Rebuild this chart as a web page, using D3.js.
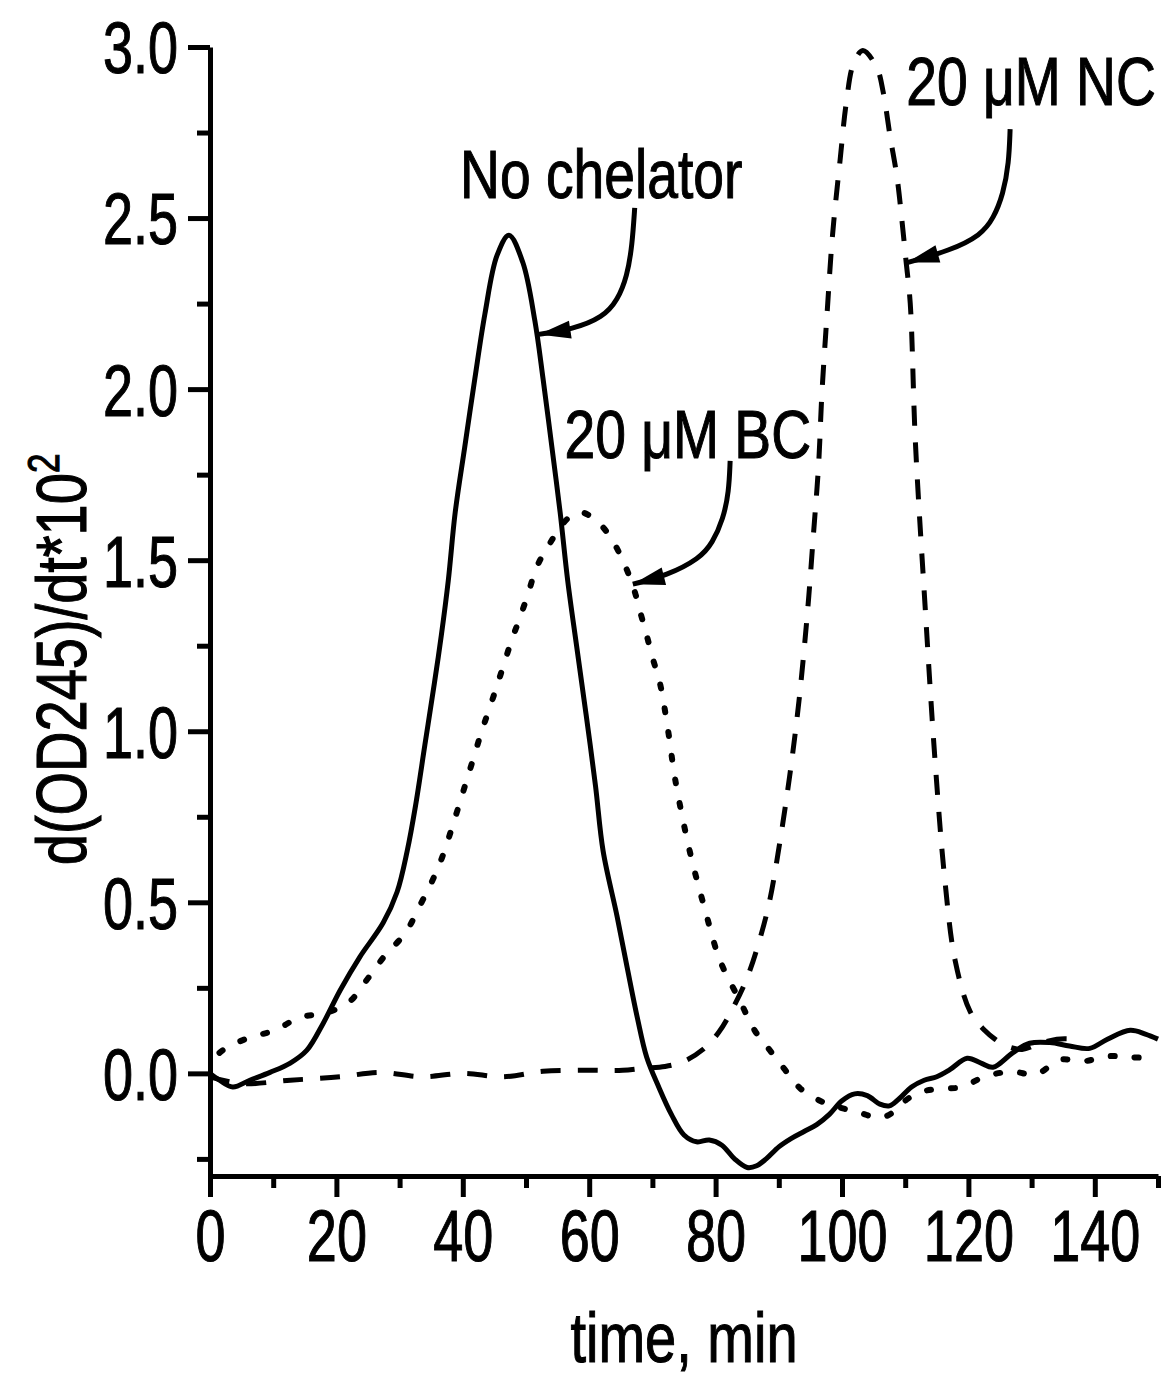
<!DOCTYPE html>
<html>
<head>
<meta charset="utf-8">
<script src="https://cdn.jsdelivr.net/npm/d3@7"></script>
<style>
  html, body { margin: 0; padding: 0; background: #fff; }
  text { font-family: "Liberation Sans", Arial, sans-serif; fill: #000; stroke: #000; stroke-width: 1.1px; }
</style>
</head>
<body>
<div id="chart"></div>
<script>
// series: [time (min), d(OD245)/dt*10^2]
const noChelator = [
  [0, 0.0], [1.5, -0.02], [3.6, -0.04], [6.3, -0.02], [9.5, 0.003], [12.7, 0.03], [15.3, 0.067],
  [17.9, 0.146], [20.6, 0.243], [23.7, 0.34], [27.4, 0.44], [29.6, 0.53], [31.2, 0.65], [32.5, 0.78],
  [34, 0.96], [35.5, 1.14], [36.6, 1.28], [37.7, 1.44], [38.8, 1.64], [40.3, 1.83], [41.9, 2.03],
  [43.5, 2.22], [45.4, 2.39], [47.3, 2.45], [49.5, 2.37], [51.4, 2.2], [52.7, 2.03], [54.1, 1.83],
  [55.4, 1.64], [56.6, 1.44], [58, 1.25], [59.5, 1.05], [61, 0.84], [62.2, 0.65], [64.4, 0.46],
  [66, 0.31], [67.6, 0.164], [69.1, 0.047], [71, -0.04], [73, -0.12], [75, -0.18], [77, -0.2],
  [79, -0.195], [81, -0.21], [83, -0.25], [85, -0.275], [86.5, -0.27], [88, -0.25], [90, -0.215],
  [92, -0.19], [94, -0.17], [96, -0.15], [98, -0.12], [100, -0.08], [102, -0.06], [104, -0.065],
  [106, -0.09], [107.5, -0.095], [109, -0.075], [111, -0.04], [113, -0.02], [115, -0.01], [117, 0.01],
  [119.8, 0.044], [122, 0.03], [123.9, 0.018], [127, 0.06], [129.7, 0.088], [132.9, 0.09], [136, 0.08],
  [139.2, 0.073], [142, 0.1], [145.6, 0.126], [148, 0.115], [150, 0.1]
]

const bc20 = [
  [1.5, 0.06], [2.7, 0.076], [6.3, 0.105], [10.3, 0.126], [14.2, 0.164], [17.9, 0.175], [21.8, 0.205],
  [25, 0.278], [27.7, 0.345], [30.9, 0.41], [33.2, 0.49], [35.1, 0.56], [36.7, 0.63], [39, 0.76],
  [41, 0.88], [43, 1.0], [45, 1.11], [46.4, 1.19], [47.8, 1.27], [49, 1.33], [50.3, 1.4], [51.7, 1.48],
  [53.8, 1.55], [56.5, 1.62], [58.5, 1.64], [60.1, 1.63], [62, 1.6], [63.6, 1.56], [65.3, 1.5],
  [67, 1.42], [68.2, 1.34], [69.1, 1.28], [70.1, 1.21], [71.2, 1.14], [72.5, 1.0], [73.6, 0.86],
  [75.9, 0.65], [78.3, 0.48], [80.7, 0.33], [83.9, 0.21], [86.2, 0.125], [88.6, 0.067], [91, 0.01],
  [93.4, -0.044], [96.5, -0.08], [99.7, -0.1], [102.8, -0.115], [106, -0.13], [108.4, -0.11],
  [110, -0.08], [112.3, -0.055], [115.5, -0.045], [119, -0.04], [122.5, -0.01], [126.9, 0.005],
  [130.7, -0.003], [134.5, 0.04], [138.1, 0.035], [142.1, 0.05], [145.9, 0.047], [149.5, 0.044]
]

const nc20 = [
  [0, -0.01], [5, -0.03], [12.7, -0.02], [20.6, -0.01], [26.9, 0.003], [33.5, -0.01], [40, 0.0],
  [46.4, -0.01], [52.7, 0.006], [59.6, 0.009], [65.3, 0.009], [68.5, 0.015], [72, 0.02], [75, 0.035],
  [78, 0.07], [80.5, 0.12], [83, 0.2], [85, 0.28], [86.8, 0.38], [88.5, 0.5], [90.2, 0.68], [91.8, 0.88],
  [93.2, 1.09], [94.5, 1.34], [95.5, 1.58], [96.3, 1.78], [96.8, 1.98], [97.6, 2.21], [98.5, 2.45],
  [99.7, 2.67], [100.7, 2.84], [101.8, 2.95], [103.3, 2.99], [105.5, 2.94], [106.5, 2.87],
  [107.6, 2.74], [108.7, 2.62], [109.5, 2.49], [110.1, 2.38], [110.8, 2.25], [111.6, 1.85],
  [113.1, 1.38], [114.7, 0.92], [116.3, 0.56], [117.9, 0.33], [120.3, 0.18], [122.6, 0.125],
  [124.2, 0.1], [126, 0.08], [128.5, 0.07], [131, 0.085], [134, 0.1], [137, 0.1]
]

const xMajorTicks = [0, 20, 40, 60, 80, 100, 120, 140]
const xMinorTicks = [10, 30, 50, 70, 90, 110, 130, 150]
const yMajorTicks = [0.0, 0.5, 1.0, 1.5, 2.0, 2.5, 3.0]
const yMinorTicks = [-0.25, 0.25, 0.75, 1.25, 1.75, 2.25, 2.75]

// annotations: label text, label anchor (data units), arrow path (data units, ends at the tip)
const labels = [
  { text: 'No chelator', at: [61.9, 2.56], arrow: [[67.2, 2.53], [66.8, 2.42], [66, 2.33], [64.5, 2.26], [62.2, 2.21], [57.4, 2.175], [52.0, 2.16]] },
  { text: '20 \u03bcM BC', at: [75.6, 1.80], arrow: [[82.3, 1.79], [82.1, 1.70], [81.2, 1.62], [79.5, 1.55], [77.5, 1.505], [72.3, 1.455], [66.9, 1.43]] },
  { text: '20 \u03bcM NC', at: [129.9, 2.83], arrow: [[126.6, 2.76], [126.4, 2.66], [125.5, 2.57], [124, 2.50], [122, 2.45], [117.1, 2.405], [110.3, 2.37]] }
]

const width = 1167, height = 1378
const narrow = 0.8      // the original type is a condensed face
const tickNarrow = 0.75

const x = d3.scaleLinear().domain([0, 150]).range([210, 1158])
const y = d3.scaleLinear().domain([-0.3, 3.0]).range([1176, 47])

const svg = d3.select('#chart')
  .append('svg')
    .attr('width', width)
    .attr('height', height)
    .style('background', '#fff')

// axes
const axisW = 5
const xMinor = svg.append('g')
  .attr('transform', `translate(0,${y(-0.3)})`)
  .call(d3.axisBottom(x).tickValues(xMinorTicks).tickSize(12).tickFormat(''))
const xMajor = svg.append('g')
  .attr('transform', `translate(0,${y(-0.3)})`)
  .call(d3.axisBottom(x).tickValues(xMajorTicks).tickSize(21).tickSizeOuter(0).tickPadding(13))
xMajor.selectAll('text')
  .attr('font-size', 72)
  .attr('dy', '0.71em')
  .attr('transform', `scale(${tickNarrow},1)`)

const yMinor = svg.append('g')
  .attr('transform', `translate(${x(0)},0)`)
  .call(d3.axisLeft(y).tickValues(yMinorTicks).tickSize(13).tickFormat(''))
const yMajor = svg.append('g')
  .attr('transform', `translate(${x(0)},0)`)
  .call(d3.axisLeft(y).tickValues(yMajorTicks).tickSize(22).tickSizeOuter(0).tickPadding(10).tickFormat(d3.format('.1f')))
yMajor.selectAll('text')
  .attr('font-size', 72)
  .attr('dy', '0.36em')
  .attr('x', -32 / tickNarrow)
  .attr('transform', `scale(${tickNarrow},1)`)

svg.selectAll('.domain, .tick line')
  .attr('stroke', '#000')
  .attr('stroke-width', axisW)
xMinor.select('.domain').remove()
yMinor.select('.domain').remove()
svg.selectAll('g').attr('font-family', null).attr('font-size', null)

// axis titles
svg.append('text')
  .attr('transform', `translate(${(x(0) + x(150)) / 2},1362) scale(${narrow},1)`)
  .attr('text-anchor', 'middle')
  .attr('font-size', 70)
  .text('time, min')

const yTitle = svg.append('text')
  .attr('transform', `translate(86,${(y(0.6) + y(1.82)) / 2}) rotate(-90) scale(${narrow},1)`)
  .attr('text-anchor', 'middle')
  .attr('font-size', 70)
yTitle.append('tspan').text('d(OD245)/dt*10')
yTitle.append('tspan').attr('dy', '-0.62em').attr('font-size', 44).text('2')

// curves
const line = d3.line()
  .x(d => x(d[0]))
  .y(d => y(d[1]))
  .curve(d3.curveCatmullRom.alpha(0.5))

svg.append('path')
  .datum(noChelator)
  .attr('fill', 'none')
  .attr('stroke', '#000')
  .attr('stroke-width', 5)
  .attr('stroke-linejoin', 'round')
  .attr('d', line)

svg.append('path')
  .datum(bc20)
  .attr('fill', 'none')
  .attr('stroke', '#000')
  .attr('stroke-width', 6)
  .attr('stroke-linecap', 'round')
  .attr('stroke-dasharray', '4,20')
  .attr('d', line)

svg.append('path')
  .datum(nc20)
  .attr('fill', 'none')
  .attr('stroke', '#000')
  .attr('stroke-width', 5)
  .attr('stroke-dasharray', '20,17')
  .attr('d', line)

// annotations with curved arrows
const arrowLine = d3.line()
  .x(d => x(d[0]))
  .y(d => y(d[1]))
  .curve(d3.curveBasis)

labels.forEach(l => {
  svg.append('text')
    .attr('transform', `translate(${x(l.at[0])},${y(l.at[1])}) scale(${narrow},1)`)
    .attr('text-anchor', 'middle')
    .attr('font-size', 69)
    .text(l.text)

  svg.append('path')
    .datum(l.arrow)
    .attr('fill', 'none')
    .attr('stroke', '#000')
    .attr('stroke-width', 5)
    .attr('d', arrowLine)

  // arrow head at the tip, pointing along the last segment
  const n = l.arrow.length
  const tx = x(l.arrow[n - 1][0]), ty = y(l.arrow[n - 1][1])
  const px = x(l.arrow[n - 2][0]), py = y(l.arrow[n - 2][1])
  const ang = Math.atan2(ty - py, tx - px)
  const len = 32, half = 9
  const bx = tx - len * Math.cos(ang), by = ty - len * Math.sin(ang)
  const nx = -Math.sin(ang) * half, ny = Math.cos(ang) * half
  svg.append('path')
    .attr('d', `M${tx},${ty}L${bx + nx},${by + ny}L${bx - nx},${by - ny}Z`)
    .attr('fill', '#000')
})
</script>
</body>
</html>
